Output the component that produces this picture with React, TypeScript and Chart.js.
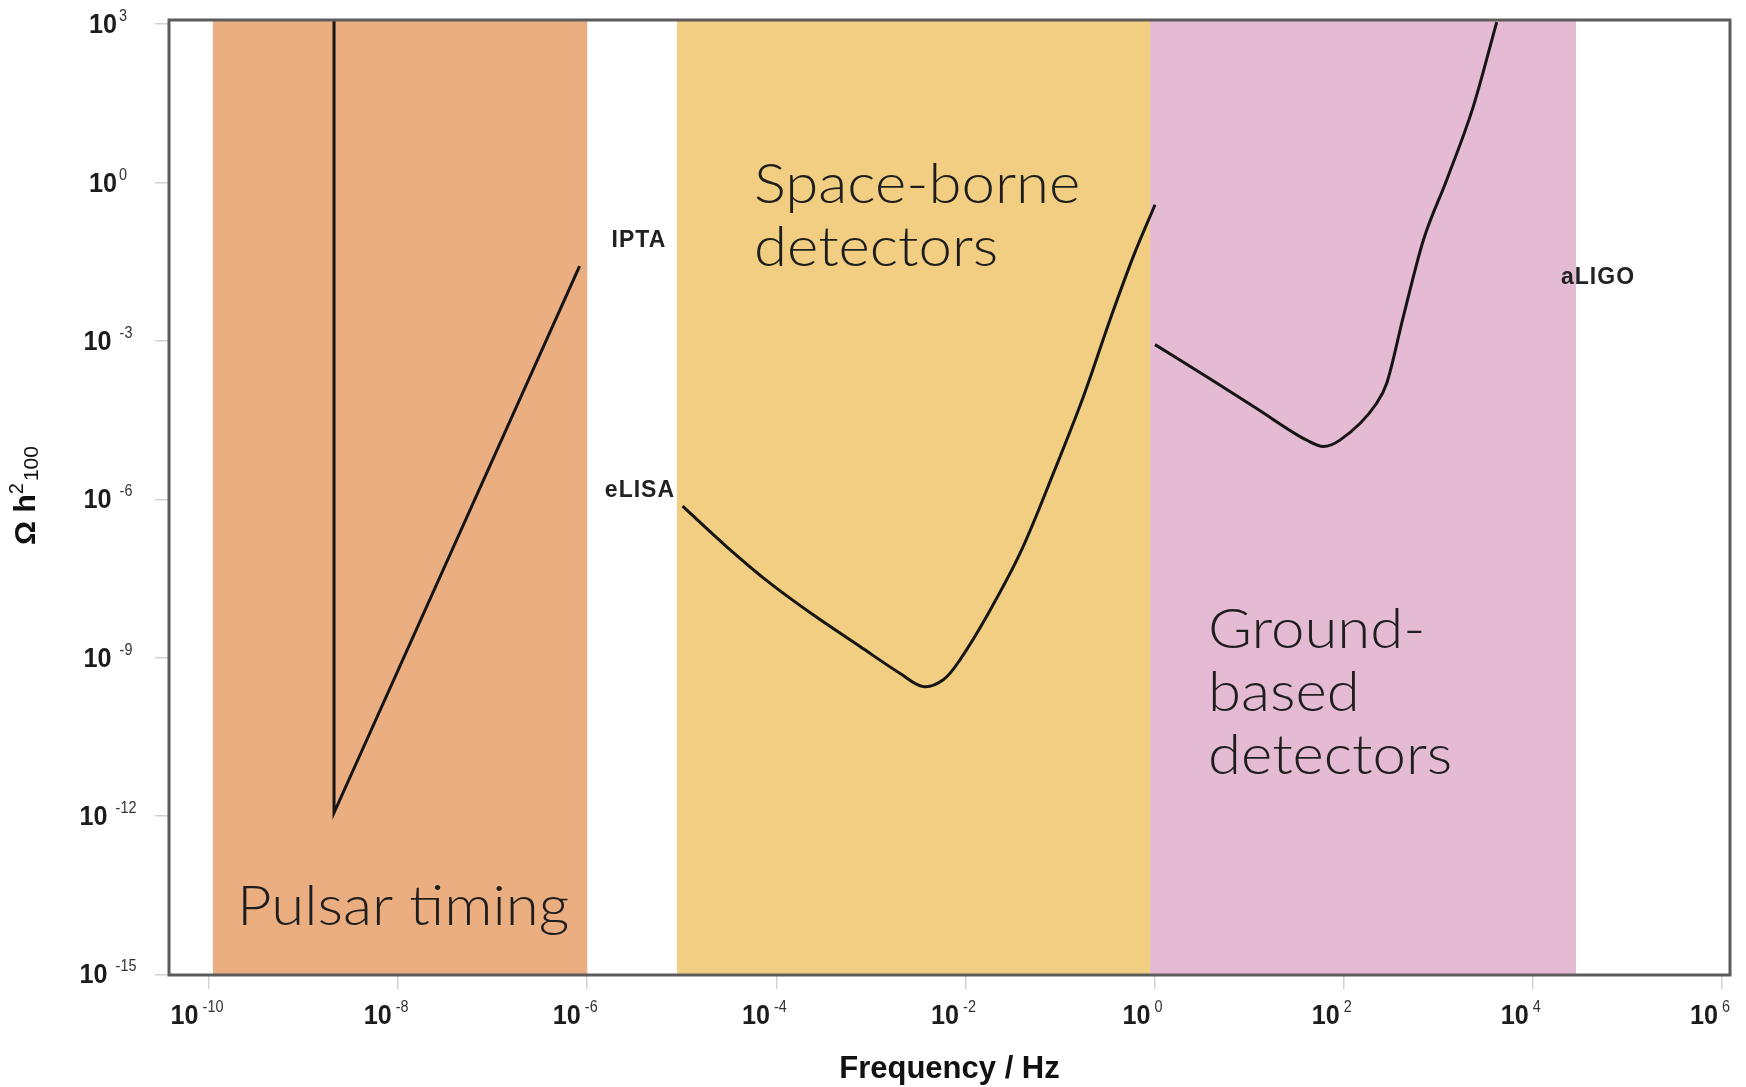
import React, { useEffect, useRef } from "react";
import { Chart, registerables } from "chart.js";

Chart.register(...registerables);

const W = 1746;
const H = 1087;

// ---- data ----
// Pulsar timing array (IPTA) sensitivity
const iptaFreq = [2.1e-9, 2.1e-9, 8.3e-7];
const iptaOmega = [2e3, 1.15e-12, 2.6e-2];

// eLISA sensitivity curve
const elisaFreq = [1.02e-5, 2.99e-5, 8.57e-5, 2.45e-4, 7.67e-4, 2.04e-3, 3.58e-3, 5.82e-3, 8.75e-3, 1.67e-2, 3.78e-2, 8.49e-2, 0.176, 0.337, 0.596, 1.01];
const elisaOmega = [7.4e-7, 1.26e-7, 2.57e-8, 6.46e-9, 1.62e-9, 5.0e-10, 2.82e-10, 3.8e-10, 9.1e-10, 6.0e-9, 9.5e-8, 3.1e-6, 8.7e-5, 2.5e-3, 4.0e-2, 0.38];

// aLIGO sensitivity curve
const ligoFreq = [1.01, 3.56, 12.0, 40.6, 60.8, 91.2, 223, 285, 427, 695, 1227, 2344, 4150];
const ligoOmega = [8.5e-4, 2.09e-4, 5.25e-5, 1.32e-5, 1.0e-5, 1.32e-5, 6.6e-5, 1.58e-4, 2.88e-3, 8.1e-2, 1.12, 27.5, 1100];

// detector bands (frequency ranges)
const bandStart = [1.1e-10, 8.9e-6, 0.895];
const bandEnd = [1.0e-6, 0.895, 2.86e4];
const bandColors = ["#EBAE81", "#F1CE81", "#E5BAD3"];

// band labels (lines), anchored at frequency / omega of first baseline
const bandLabels = [["Pulsar timing"], ["Space-borne", "detectors"], ["Ground-", "based", "detectors"]];
const bandLabelFreq = [1.98e-10, 5.8e-5, 3.67];
const bandLabelOmega = [8.5e-15, 0.406, 1.51e-9];

// curve labels
const curveLabels = ["IPTA", "eLISA", "aLIGO"];
const curveLabelFreq = [3.52e-6, 3.61e-6, 4.89e4];
const curveLabelOmega = [0.078, 1.48e-6, 1.55e-2];

// axis ticks
const xTickExps = [-10, -8, -6, -4, -2, 0, 2, 4, 6];
const yTickExps = [3, 0, -3, -6, -9, -12, -15];
const xMin = Math.pow(10, -10.423);
const xMax = Math.pow(10, 6.085);
const yMin = Math.pow(10, -15.013);
const yMax = Math.pow(10, 3.08);

const xTitle = "Frequency / Hz";

const pts = (xs: number[], ys: number[]) => xs.map((x, i) => ({ x, y: ys[i] }));

const TICK_FONT = "bold 28px 'Liberation Sans', Arial, sans-serif";
const SUP_FONT = "16px 'Liberation Sans', Arial, sans-serif";
const TICK_SX = 0.9;

function drawPow(ctx: CanvasRenderingContext2D, cx: number, baseY: number, exp: number, gap: number) {
  const e = String(exp);
  ctx.font = TICK_FONT;
  const w1 = ctx.measureText("10").width * TICK_SX;
  ctx.font = SUP_FONT;
  const w2 = ctx.measureText(e).width * TICK_SX;
  const total = w1 + gap + w2;
  const x = cx - total / 2;
  ctx.save();
  ctx.textAlign = "left";
  ctx.textBaseline = "alphabetic";
  ctx.translate(x, baseY);
  ctx.scale(TICK_SX, 1);
  ctx.fillStyle = "#1c1c1c";
  ctx.font = TICK_FONT;
  ctx.fillText("10", 0, 0);
  ctx.font = SUP_FONT;
  ctx.fillStyle = "#333";
  ctx.fillText(e, (w1 + gap) / TICK_SX, -12);
  ctx.restore();
}

const bandsPlugin = {
  id: "bands",
  beforeDatasetsDraw(chart: any) {
    const { ctx, chartArea, scales } = chart;
    const xs = scales.x;
    const ys = scales.y;
    ctx.save();
    ctx.beginPath();
    ctx.rect(chartArea.left, chartArea.top, chartArea.right - chartArea.left, chartArea.bottom - chartArea.top);
    ctx.clip();
    bandStart.forEach((s, i) => {
      const x0 = xs.getPixelForValue(s);
      const x1 = xs.getPixelForValue(bandEnd[i]);
      ctx.fillStyle = bandColors[i];
      ctx.fillRect(x0, chartArea.top, x1 - x0, chartArea.bottom - chartArea.top);
    });
    // band labels
    ctx.fillStyle = "#1e1e1e";
    ctx.font = "300 56px Lato, 'Open Sans', sans-serif";
    ctx.textAlign = "left";
    ctx.textBaseline = "alphabetic";
    bandLabels.forEach((lines, i) => {
      const x = xs.getPixelForValue(bandLabelFreq[i]);
      const y = ys.getPixelForValue(bandLabelOmega[i]);
      lines.forEach((t, j) => {
        ctx.save();
        ctx.translate(x, y + j * 63);
        ctx.scale(1.07, 1);
        ctx.fillText(t, 0, 0);
        ctx.restore();
      });
    });
    ctx.restore();
  },
  afterDatasetsDraw(chart: any) {
    const { ctx, chartArea, scales } = chart;
    const xs = scales.x;
    const ys = scales.y;
    ctx.save();
    // frame
    ctx.strokeStyle = "#5c5c5c";
    ctx.lineWidth = 3;
    ctx.strokeRect(chartArea.left, chartArea.top, chartArea.right - chartArea.left, chartArea.bottom - chartArea.top);
    // curve labels
    ctx.fillStyle = "#222";
    ctx.font = "bold 23px 'Liberation Sans', Arial, sans-serif";
    (ctx as any).letterSpacing = "1px";
    ctx.textAlign = "center";
    ctx.textBaseline = "middle";
    curveLabels.forEach((t, i) => {
      ctx.fillText(t, xs.getPixelForValue(curveLabelFreq[i]), ys.getPixelForValue(curveLabelOmega[i]));
    });
    (ctx as any).letterSpacing = "0px";
    // tick labels
    xTickExps.forEach((e) => {
      const px = xs.getPixelForValue(Math.pow(10, e));
      drawPow(ctx, px - 12, chartArea.bottom + 49, e, 4);
    });
    yTickExps.forEach((e) => {
      const py = ys.getPixelForValue(Math.pow(10, e));
      drawPow(ctx, chartArea.left - 61, py + 9, e, e < 0 ? 8 : 2);
    });
    // x title
    ctx.fillStyle = "#111";
    ctx.font = "bold 31px 'Liberation Sans', Arial, sans-serif";
    ctx.textAlign = "center";
    ctx.textBaseline = "alphabetic";
    ctx.fillText(xTitle, (chartArea.left + chartArea.right) / 2, chartArea.bottom + 103);
    // y title: Ω h²₁₀₀ (rotated)
    const cy = (chartArea.top + chartArea.bottom) / 2 - 2;
    ctx.translate(25, cy);
    ctx.rotate(-Math.PI / 2);
    const mainF = "bold 30px 'Liberation Sans', Arial, sans-serif";
    const smallF = "20px 'Liberation Sans', Arial, sans-serif";
    const subF = "21px 'Liberation Sans', Arial, sans-serif";
    ctx.font = mainF;
    const w1 = ctx.measureText("Ω h").width;
    ctx.font = smallF;
    const w2 = ctx.measureText("2").width;
    ctx.font = subF;
    const w3 = ctx.measureText("100").width;
    let x = -(w1 + w2 + 2 + w3) / 2;
    ctx.textAlign = "left";
    ctx.fillStyle = "#111";
    ctx.font = mainF;
    ctx.fillText("Ω h", x, 10);
    x += w1;
    ctx.font = smallF;
    ctx.fillText("2", x, -2);
    x += w2 + 2;
    ctx.font = subF;
    ctx.fillText("100", x, 13);
    ctx.restore();
  },
};

export default function App() {
  const ref = useRef<HTMLCanvasElement>(null);
  useEffect(() => {
    document.body.style.margin = "0";
    const canvas = ref.current;
    if (!canvas) return;
    const lineStyle = {
      showLine: true,
      borderColor: "#151515",
      borderWidth: 3,
      pointRadius: 0,
      pointHoverRadius: 0,
      fill: false,
    };
    const chart = new Chart(canvas, {
      type: "scatter",
      data: {
        datasets: [
          { label: "IPTA", data: pts(iptaFreq, iptaOmega), ...lineStyle, tension: 0 },
          { label: "eLISA", data: pts(elisaFreq, elisaOmega), ...lineStyle, tension: 0.35 },
          { label: "aLIGO", data: pts(ligoFreq, ligoOmega), ...lineStyle, cubicInterpolationMode: "monotone" },
        ] as any,
      },
      options: {
        responsive: false,
        animation: false,
        devicePixelRatio: 1,
        layout: { padding: { left: 0, right: 16, top: 20, bottom: 0 } },
        plugins: { legend: { display: false }, tooltip: { enabled: false } },
        scales: {
          x: {
            type: "logarithmic",
            min: xMin,
            max: xMax,
            afterBuildTicks: (s: any) => {
              s.ticks = xTickExps.map((e) => ({ value: Math.pow(10, e) }));
            },
            afterFit: (s: any) => {
              s.height = H - 975;
            },
            ticks: { display: false },
            grid: { drawOnChartArea: false, drawTicks: true, tickLength: 14, color: "#d2d2d2", lineWidth: 1.5 },
            border: { display: false },
          },
          y: {
            type: "logarithmic",
            min: yMin,
            max: yMax,
            afterBuildTicks: (s: any) => {
              s.ticks = yTickExps.map((e) => ({ value: Math.pow(10, e) }));
            },
            afterFit: (s: any) => {
              s.width = 169;
            },
            ticks: { display: false },
            grid: { drawOnChartArea: false, drawTicks: true, tickLength: 14, color: "#d2d2d2", lineWidth: 1.5 },
            border: { display: false },
          },
        },
      } as any,
      plugins: [bandsPlugin],
    });
    return () => chart.destroy();
  }, []);
  return (
    <div style={{ position: "absolute", left: 0, top: 0, width: W, height: H, background: "#fff" }}>
      <canvas ref={ref} width={W} height={H} style={{ display: "block", width: W, height: H }} />
    </div>
  );
}
